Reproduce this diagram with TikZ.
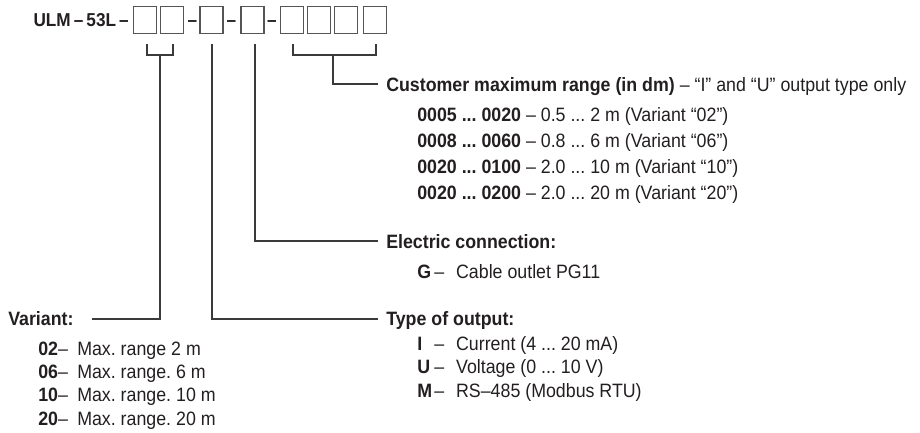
\documentclass[tikz,border=0pt]{standalone}
\usepackage{fontspec}
\setmainfont{Liberation Sans}[FakeStretch=0.92]
\definecolor{ink}{HTML}{231F20}
\definecolor{linegray}{HTML}{3A3A3A}
\definecolor{boxgray}{HTML}{555555}
\begin{document}
\frenchspacing
\begin{tikzpicture}[x=0.75pt,y=-0.75pt,
  box/.style={draw=boxgray, line width=0.8pt, minimum width=17.25pt, minimum height=19.9pt, inner sep=0pt},
  conn/.style={draw=linegray, line width=0.8pt},
  txt/.style={anchor=base west, inner sep=0pt, text=ink, font=\fontsize{14.5pt}{17pt}\selectfont},
  head/.style={txt, font=\fontsize{14.5pt}{17pt}\selectfont\bfseries},
  dashsym/.style={anchor=base, inner sep=0pt, text=ink, font=\fontsize{14pt}{15pt}\selectfont\bfseries}]
\useasboundingbox (0,0) rectangle (920,432);
% title
\node[anchor=base east, inner sep=0pt, text=ink, font=\fontsize{14pt}{17pt}\selectfont\bfseries] (title) at (129,26.5) {ULM\,–\,53L\,–};
% boxes
\node[box] (b1) at (145,20) {};
\node[box] (b2) at (172,20) {};
\node[dashsym] (d1) at (192.5,26.5) {–};
\node[box] (b3) at (211.5,20) {};
\node[dashsym] (d2) at (231.5,26.5) {–};
\node[box] (b4) at (252.5,20) {};
\node[dashsym] (d3) at (272,26.5) {–};
\node[box] (b5) at (292,20) {};
\node[box] (b6) at (319,20) {};
\node[box] (b7) at (346,20) {};
\node[box] (b8) at (375,20) {};
% headings
\node[head] (cust) at (386,91) {Customer maximum range (in dm) \mdseries– “I” and “U” output type only};
\node[head] (elec) at (386,248) {Electric connection:};
\node[head] (type) at (386,325) {Type of output:};
\node[head] (vari) at (8,325) {Variant:};
% customer range items
\node[txt] (c1) at (417,121) {\textbf{0005 ... 0020} – 0.5 ... 2 m (Variant “02”)};
\node[txt] (c2) at (417,147) {\textbf{0008 ... 0060} – 0.8 ... 6 m (Variant “06”)};
\node[txt] (c3) at (417,173) {\textbf{0020 ... 0100} – 2.0 ... 10 m (Variant “10”)};
\node[txt] (c4) at (417,199) {\textbf{0020 ... 0200} – 2.0 ... 20 m (Variant “20”)};
% electric connection item
\node[txt] (g) at (417,278) {\textbf{G}};
\node[txt] (gx) at (434,278) {–\hspace{9pt}Cable outlet PG11};
% type of output items
\node[txt] (tI) at (417,350) {\textbf{I}};
\node[txt] (tU) at (417,373.5) {\textbf{U}};
\node[txt] (tM) at (417,397) {\textbf{M}};
\node[txt] (tIx) at (434,350) {–\hspace{9pt}Current (4 ... 20 mA)};
\node[txt] (tUx) at (434,373.5) {–\hspace{9pt}Voltage (0 ... 10 V)};
\node[txt] (tMx) at (434,397) {–\hspace{9pt}RS–485 (Modbus RTU)};
% variant items
\node[txt] (v1) at (38,355) {\textbf{02}–\hspace{7pt}Max. range 2 m};
\node[txt] (v2) at (38,378.3) {\textbf{06}–\hspace{7pt}Max. range. 6 m};
\node[txt] (v3) at (38,401.7) {\textbf{10}–\hspace{7pt}Max. range. 10 m};
\node[txt] (v4) at (38,425) {\textbf{20}–\hspace{7pt}Max. range. 20 m};
% connector points
\coordinate (vl) at (147,44);
\coordinate (vr) at (173,44);
\coordinate (vbr) at (160,55);
\coordinate (vend) at (92,319);
\coordinate (tt) at (212,44);
\coordinate (tend) at (378,319);
\coordinate (et) at (255,44);
\coordinate (eend) at (378,241);
\coordinate (cl) at (293,44);
\coordinate (cr) at (376,44);
\coordinate (cbr) at (333,55);
\coordinate (cend) at (378,84);
% variant bracket
\draw[conn] (vl) |- (vbr) -| (vr);
\draw[conn] (vbr) |- (vend);
% type of output
\draw[conn] (tt) |- (tend);
% electric connection
\draw[conn] (et) |- (eend);
% customer range bracket
\draw[conn] (cl) |- (cbr) -| (cr);
\draw[conn] (cbr) |- (cend);
\end{tikzpicture}
\end{document}
